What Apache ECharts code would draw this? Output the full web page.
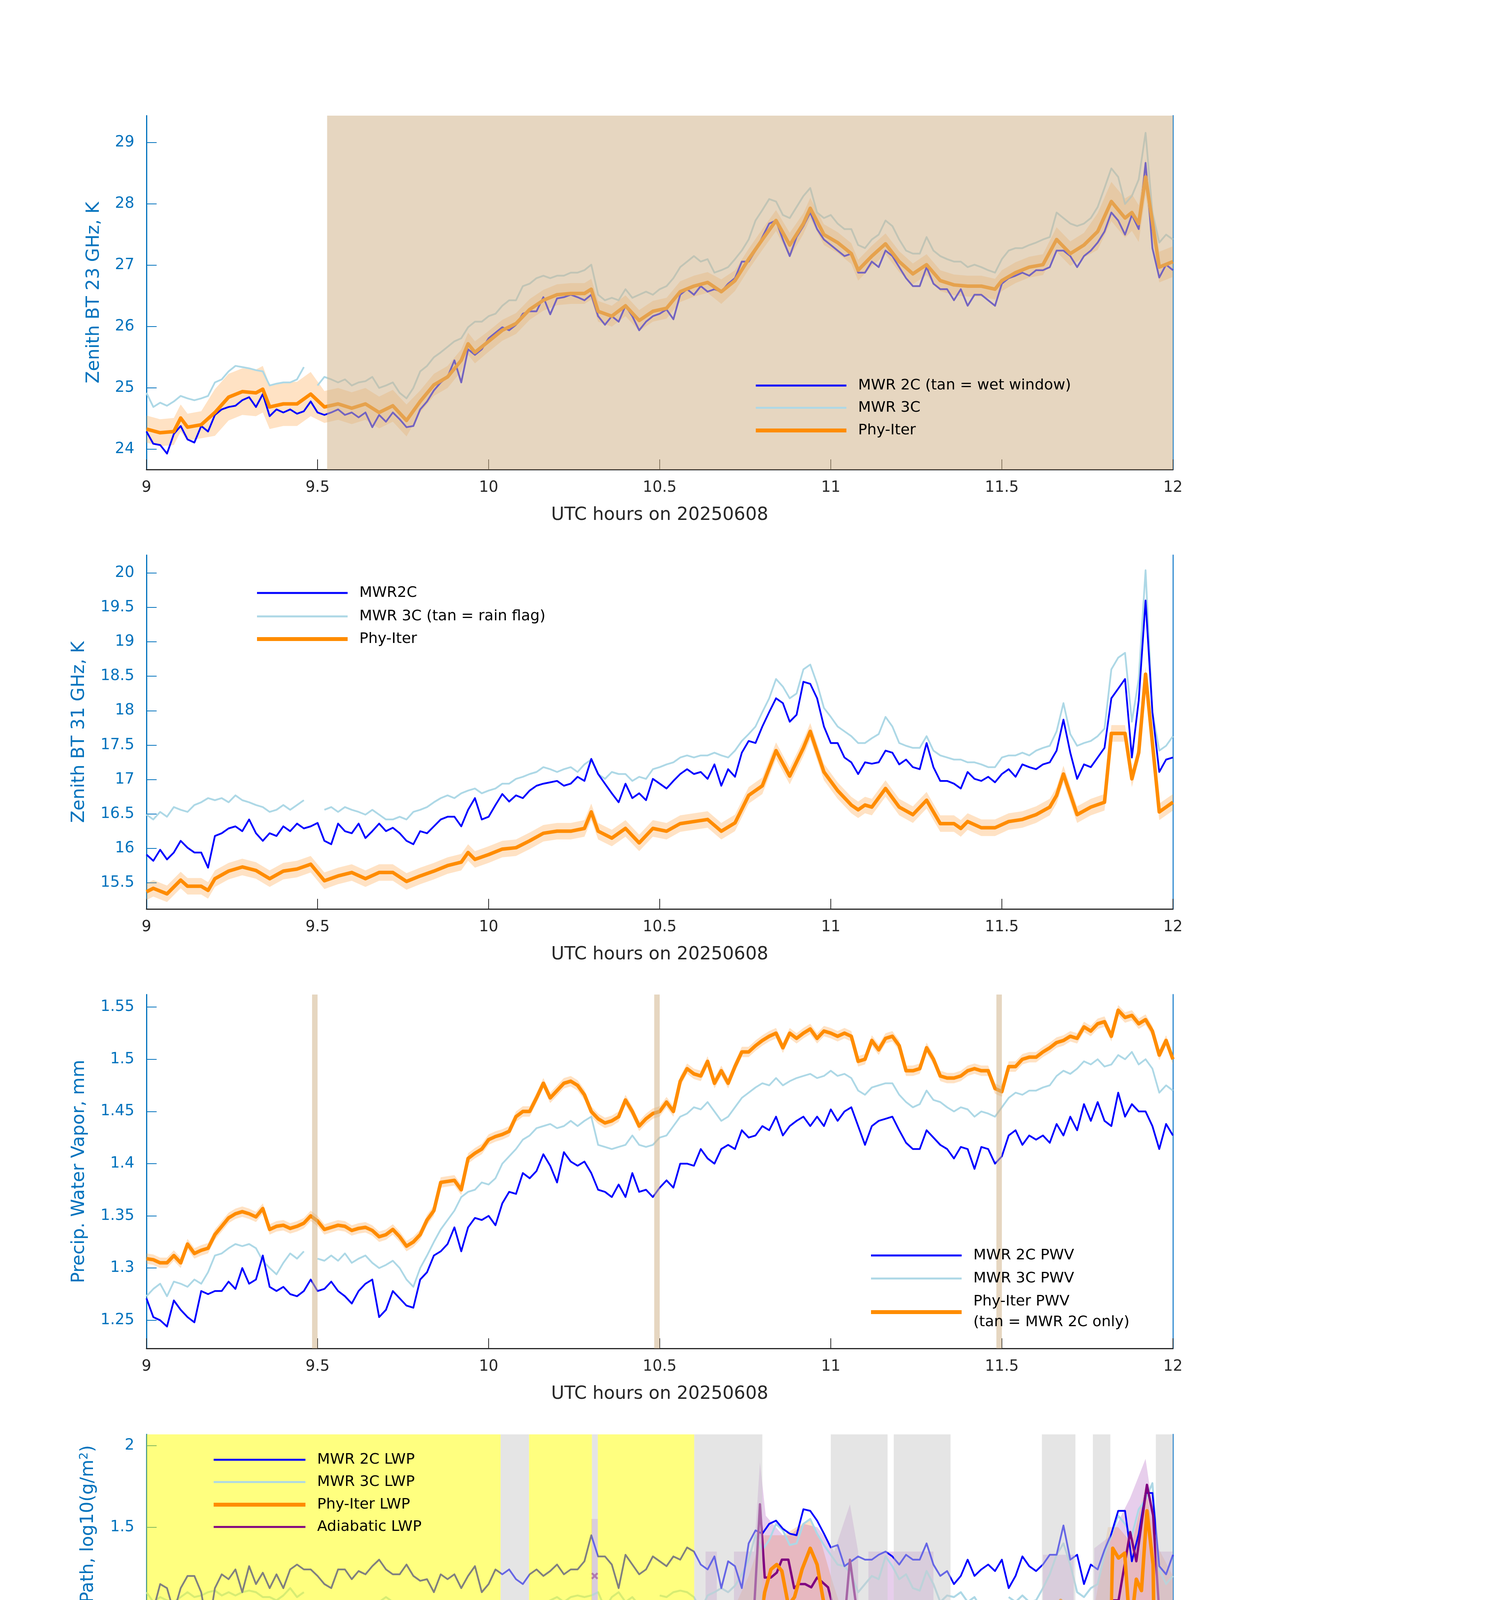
<!DOCTYPE html>
<html><head><meta charset="utf-8">
<script src="https://cdn.jsdelivr.net/npm/echarts@6/dist/echarts.min.js"></script>
<style>html,body{margin:0;padding:0;background:#fff}#c{width:3825px;height:6000px}</style>
</head><body><div id="c"></div>
<script>
// ---------------- DATA ----------------
// MWR sample grid: 9.00 .. 12.00 h every 0.02 h (151 samples)
const T = []; for (let i = 0; i <= 150; i++) T.push(+(9 + i * 0.02).toFixed(2));

// Panel 1: Zenith BT 23 GHz (K)
const p1_2c = [24.29,24.09,24.07,23.93,24.25,24.38,24.16,24.11,24.38,24.29,
24.56,24.65,24.69,24.71,24.80,24.85,24.69,24.90,24.54,24.65,
24.60,24.65,24.58,24.62,24.78,24.60,24.56,24.60,24.65,24.56,
24.60,24.52,24.60,24.36,24.56,24.45,24.60,24.49,24.36,24.38,
24.65,24.78,24.96,25.09,25.18,25.45,25.09,25.63,25.54,25.63,
25.81,25.90,25.99,25.94,26.03,26.21,26.25,26.25,26.48,26.20,
26.46,26.48,26.52,26.48,26.43,26.52,26.17,26.03,26.17,26.08,
26.34,26.17,25.94,26.08,26.17,26.21,26.28,26.12,26.52,26.61,
26.52,26.66,26.57,26.61,26.57,26.70,26.79,27.06,27.06,27.24,
27.46,27.68,27.73,27.42,27.15,27.46,27.64,27.86,27.59,27.42,
27.33,27.24,27.15,27.19,26.88,26.88,27.06,26.97,27.24,27.15,
26.97,26.79,26.66,26.66,26.97,26.70,26.61,26.61,26.43,26.61,
26.34,26.52,26.52,26.43,26.34,26.70,26.79,26.83,26.88,26.83,
26.92,26.92,26.97,27.24,27.24,27.15,26.97,27.15,27.24,27.37,
27.55,27.86,27.73,27.50,27.82,27.59,28.67,27.28,26.80,27.01,
26.92];
const p1_3c = [24.92,24.69,24.76,24.71,24.78,24.87,24.83,24.80,24.83,24.87,
25.09,25.14,25.27,25.36,25.34,25.32,25.29,25.27,25.04,25.07,
25.09,25.09,25.14,25.34,null,25.04,25.18,25.14,25.09,25.14,
25.04,25.09,25.11,25.18,25.00,25.04,25.09,24.92,24.83,25.00,
25.27,25.36,25.50,25.58,25.67,25.76,25.81,25.99,26.08,26.08,
26.17,26.21,26.34,26.43,26.43,26.66,26.70,26.79,26.83,26.79,
26.83,26.83,26.88,26.88,26.92,27.01,26.52,26.43,26.47,26.43,
26.61,26.47,26.52,26.57,26.52,26.61,26.66,26.79,26.97,27.06,
27.15,27.06,27.10,26.88,26.92,26.97,27.10,27.24,27.42,27.73,
27.90,28.08,28.04,27.82,27.77,27.95,28.13,28.26,27.86,27.77,
27.82,27.68,27.59,27.59,27.33,27.28,27.42,27.50,27.73,27.64,
27.42,27.24,27.19,27.19,27.46,27.24,27.15,27.10,27.06,27.06,
26.97,27.01,26.97,26.92,26.88,27.10,27.24,27.28,27.28,27.33,
27.37,27.42,27.46,27.86,27.77,27.68,27.64,27.68,27.77,27.95,
28.26,28.58,28.44,28.00,28.13,28.40,29.16,27.86,27.37,27.50,
27.42];
const p1_phyT = [9.00,9.04,9.08,9.10,9.12,9.16,9.20,9.24,9.28,9.32,9.34,9.36,9.40,9.44,9.48,9.52,9.56,9.60,9.64,9.68,
9.72,9.76,9.80,9.84,9.88,9.92,9.94,9.96,10.00,10.04,10.08,10.12,10.16,10.20,10.24,10.28,10.30,10.32,10.36,10.40,
10.44,10.48,10.52,10.56,10.60,10.64,10.68,10.72,10.76,10.80,10.84,10.88,10.92,10.94,10.98,11.02,11.06,11.08,11.12,11.16,
11.20,11.24,11.28,11.32,11.36,11.40,11.44,11.48,11.50,11.54,11.58,11.62,11.66,11.70,11.74,11.78,11.82,11.86,11.88,11.90,
11.92,11.96,12.00];
const p1_phy = [24.33,24.27,24.29,24.51,24.36,24.40,24.60,24.85,24.94,24.92,24.98,24.69,24.74,24.74,24.90,24.69,24.74,24.67,24.74,24.60,
24.71,24.47,24.78,25.05,25.18,25.45,25.72,25.58,25.76,25.94,26.05,26.28,26.43,26.52,26.54,26.54,26.61,26.25,26.17,26.34,
26.10,26.25,26.30,26.57,26.66,26.72,26.57,26.75,27.10,27.42,27.73,27.33,27.68,27.93,27.50,27.37,27.19,26.92,27.15,27.35,
27.06,26.86,27.01,26.75,26.68,26.66,26.66,26.61,26.75,26.88,26.97,27.01,27.42,27.19,27.33,27.55,28.04,27.77,27.86,27.68,
28.44,26.97,27.06];
const p1_phyU = [0.22,0.22,0.22,0.22,0.22,0.22,0.38,0.38,0.38,0.38,0.38,0.36,0.36,0.36,0.36,0.26,0.26,0.26,0.26,0.26,
0.26,0.26,0.18,0.18,0.18,0.18,0.18,0.18,0.17,0.17,0.17,0.17,0.17,0.17,0.17,0.17,0.17,0.17,0.17,0.17,
0.17,0.17,0.17,0.17,0.17,0.17,0.20,0.17,0.17,0.17,0.17,0.20,0.17,0.17,0.17,0.17,0.17,0.17,0.17,0.17,
0.17,0.17,0.17,0.17,0.17,0.17,0.17,0.17,0.17,0.17,0.17,0.17,0.20,0.20,0.20,0.30,0.32,0.32,0.30,0.30,
0.30,0.25,0.25];

// Panel 2: Zenith BT 31 GHz (K)
const p2_2c = [15.91,15.82,15.98,15.84,15.94,16.11,16.01,15.94,15.94,15.72,
16.18,16.22,16.29,16.32,16.25,16.42,16.22,16.11,16.22,16.18,
16.32,16.25,16.36,16.29,16.32,16.37,16.11,16.06,16.36,16.25,
16.22,16.36,16.15,16.25,16.36,16.25,16.30,16.22,16.11,16.06,
16.25,16.22,16.32,16.42,16.46,16.46,16.32,16.56,16.73,16.42,
16.46,16.63,16.79,16.68,16.77,16.73,16.84,16.91,16.94,16.96,
16.98,16.91,16.94,17.04,16.98,17.30,17.08,16.94,16.80,16.67,
16.94,16.73,16.80,16.70,17.01,16.94,16.87,16.98,17.08,17.15,
17.08,17.11,17.01,17.22,16.91,17.15,17.04,17.39,17.56,17.53,
17.77,17.98,18.18,18.11,17.84,17.94,18.42,18.39,18.18,17.77,
17.53,17.53,17.32,17.25,17.08,17.25,17.23,17.25,17.42,17.39,
17.22,17.29,17.18,17.15,17.53,17.18,16.98,16.98,16.94,16.87,
17.11,17.01,16.98,17.04,16.96,17.08,17.15,17.04,17.22,17.18,
17.15,17.22,17.25,17.42,17.87,17.39,17.01,17.22,17.18,17.32,
17.46,18.18,18.32,18.46,17.32,18.15,19.60,17.98,17.11,17.29,
17.32];
const p2_3c = [16.49,16.42,16.53,16.46,16.60,16.56,16.53,16.63,16.67,16.73,
16.70,16.73,16.67,16.77,16.70,16.67,16.63,16.60,16.53,16.56,
16.63,16.56,16.63,16.70,null,null,16.56,16.60,16.53,16.60,
16.56,16.53,16.49,16.56,16.49,16.42,16.42,16.46,16.42,16.53,
16.56,16.60,16.67,16.73,16.77,16.73,16.80,16.84,16.87,16.80,
16.84,16.87,16.94,16.94,17.01,17.04,17.08,17.11,17.18,17.15,
17.11,17.15,17.18,17.11,17.22,17.29,17.08,17.01,17.11,17.08,
17.08,16.98,17.04,17.01,17.15,17.18,17.22,17.25,17.32,17.35,
17.32,17.35,17.35,17.39,17.35,17.32,17.42,17.56,17.66,17.77,
17.98,18.18,18.46,18.35,18.18,18.25,18.60,18.67,18.39,18.04,
17.91,17.77,17.70,17.63,17.53,17.53,17.60,17.66,17.91,17.77,
17.53,17.49,17.46,17.46,17.63,17.42,17.35,17.32,17.29,17.29,
17.25,17.25,17.22,17.18,17.18,17.32,17.35,17.35,17.39,17.35,
17.42,17.46,17.49,17.70,18.11,17.66,17.49,17.53,17.56,17.63,
17.74,18.60,18.77,18.84,17.84,18.46,20.04,17.98,17.42,17.49,
17.63];
const p2_phyT = [9.00,9.02,9.06,9.10,9.12,9.16,9.18,9.20,9.24,9.28,9.32,9.36,9.40,9.44,9.48,9.52,9.56,9.60,9.64,9.68,
9.72,9.76,9.80,9.84,9.88,9.92,9.94,9.96,10.00,10.04,10.08,10.12,10.16,10.20,10.24,10.28,10.30,10.32,10.36,10.40,
10.44,10.48,10.52,10.56,10.60,10.64,10.68,10.72,10.76,10.80,10.84,10.88,10.92,10.94,10.98,11.02,11.06,11.08,11.10,11.12,
11.16,11.20,11.24,11.28,11.32,11.36,11.38,11.40,11.44,11.48,11.52,11.56,11.60,11.64,11.66,11.68,11.72,11.76,11.80,11.82,
11.86,11.88,11.90,11.92,11.96,11.98,12.00];
const p2_phy = [15.37,15.42,15.34,15.54,15.45,15.45,15.39,15.56,15.67,15.73,15.68,15.56,15.67,15.70,15.77,15.53,15.60,15.65,15.56,15.65,
15.65,15.52,15.60,15.67,15.75,15.80,15.94,15.84,15.91,15.99,16.01,16.11,16.22,16.25,16.25,16.29,16.53,16.25,16.15,16.29,
16.08,16.29,16.25,16.36,16.39,16.42,16.25,16.37,16.77,16.91,17.42,17.05,17.46,17.70,17.11,16.84,16.63,16.56,16.63,16.60,
16.87,16.60,16.49,16.70,16.36,16.36,16.29,16.39,16.30,16.30,16.39,16.42,16.49,16.60,16.77,17.08,16.49,16.60,16.67,17.67,
17.67,17.01,17.39,18.53,16.53,16.60,16.67];
const p2_phyU = 0.12;

// Panel 3: precipitable water vapour (mm)
const p3_2c = [1.271,1.253,1.250,1.244,1.269,1.260,1.253,1.248,1.278,1.275,
1.278,1.278,1.287,1.280,1.300,1.285,1.289,1.312,1.282,1.278,
1.282,1.275,1.273,1.278,1.289,1.278,1.280,1.287,1.278,1.273,
1.266,1.278,1.285,1.289,1.253,1.260,1.278,1.271,1.264,1.262,
1.289,1.296,1.312,1.316,1.323,1.339,1.316,1.339,1.348,1.346,
1.350,1.341,1.362,1.373,1.371,1.391,1.386,1.393,1.409,1.398,
1.382,1.411,1.402,1.398,1.402,1.391,1.375,1.373,1.368,1.380,
1.368,1.391,1.373,1.375,1.368,1.377,1.384,1.377,1.400,1.400,
1.398,1.414,1.405,1.400,1.414,1.418,1.414,1.432,1.425,1.427,
1.436,1.432,1.445,1.427,1.436,1.441,1.445,1.436,1.445,1.436,
1.452,1.441,1.450,1.454,1.436,1.418,1.436,1.441,1.443,1.445,
1.432,1.420,1.414,1.414,1.432,1.425,1.418,1.414,1.405,1.416,
1.414,1.395,1.416,1.414,1.400,1.407,1.427,1.432,1.418,1.427,
1.423,1.427,1.420,1.438,1.427,1.445,1.432,1.457,1.441,1.459,
1.441,1.436,1.468,1.445,1.457,1.450,1.450,1.436,1.414,1.438,
1.427];
const p3_3c = [1.273,1.280,1.285,1.273,1.287,1.285,1.282,1.289,1.285,1.296,
1.312,1.314,1.319,1.323,1.321,1.323,1.319,1.307,1.300,1.294,
1.305,1.314,1.309,1.316,null,1.309,1.307,1.312,1.307,1.314,
1.305,1.309,1.312,1.305,1.300,1.303,1.307,1.300,1.289,1.282,
1.300,1.312,1.325,1.337,1.346,1.355,1.368,1.373,1.375,1.382,
1.380,1.386,1.400,1.407,1.414,1.423,1.427,1.434,1.436,1.438,
1.434,1.436,1.441,1.436,1.441,1.445,1.418,1.416,1.414,1.416,
1.418,1.427,1.418,1.416,1.418,1.425,1.427,1.436,1.445,1.448,
1.454,1.452,1.459,1.450,1.441,1.445,1.454,1.463,1.468,1.473,
1.477,1.475,1.482,1.475,1.479,1.482,1.484,1.486,1.482,1.484,
1.489,1.484,1.486,1.482,1.470,1.466,1.473,1.475,1.477,1.477,
1.466,1.459,1.454,1.457,1.470,1.461,1.459,1.454,1.450,1.454,
1.452,1.445,1.450,1.448,1.445,1.454,1.463,1.468,1.466,1.470,
1.470,1.473,1.475,1.484,1.489,1.486,1.491,1.498,1.495,1.500,
1.493,1.495,1.504,1.500,1.507,1.495,1.500,1.491,1.468,1.475,
1.470];
const p3_phy = [1.309,1.308,1.305,1.305,1.312,1.305,1.323,1.314,1.317,1.319,
1.332,1.340,1.348,1.352,1.354,1.352,1.349,1.357,1.337,1.340,
1.341,1.338,1.340,1.343,1.350,1.345,1.337,1.339,1.341,1.340,
1.336,1.338,1.339,1.336,1.330,1.332,1.337,1.330,1.321,1.325,
1.332,1.346,1.355,1.382,1.383,1.384,1.375,1.405,1.410,1.414,
1.423,1.426,1.428,1.431,1.445,1.450,1.450,1.463,1.477,1.463,
1.470,1.477,1.479,1.475,1.466,1.450,1.443,1.439,1.441,1.445,
1.461,1.450,1.436,1.443,1.448,1.450,1.459,1.450,1.479,1.491,
1.486,1.484,1.498,1.477,1.489,1.477,1.493,1.507,1.507,1.513,
1.518,1.522,1.525,1.511,1.525,1.520,1.525,1.529,1.520,1.527,
1.525,1.522,1.525,1.522,1.498,1.500,1.518,1.509,1.520,1.522,
1.513,1.489,1.489,1.491,1.511,1.500,1.484,1.482,1.482,1.484,
1.489,1.491,1.489,1.489,1.472,1.469,1.493,1.493,1.500,1.502,
1.502,1.507,1.511,1.516,1.518,1.522,1.520,1.531,1.527,1.534,
1.536,1.522,1.547,1.540,1.542,1.534,1.538,1.527,1.504,1.518,
1.500];
const p3_phyU = 0.005;

// Panel 4: log10 LWP
const p4_2c = [1.007,0.99,1.15,1.125,0.98,1.125,1.20,1.20,1.10,0.86,
1.125,1.21,1.18,1.24,1.10,1.26,1.15,1.22,1.125,1.21,
1.125,1.24,1.27,1.24,1.24,1.20,1.15,1.125,1.24,1.24,
1.18,1.23,1.21,1.26,1.30,1.24,1.21,1.21,1.27,1.20,
1.17,1.18,1.10,1.21,1.18,1.21,1.125,1.20,1.26,1.10,
1.15,1.24,1.21,1.24,1.18,1.15,1.21,1.24,1.20,1.23,
1.27,1.21,1.24,1.24,1.29,1.45,1.32,1.32,1.27,1.125,
1.33,1.27,1.21,1.24,1.32,1.29,1.26,1.32,1.30,1.375,
1.35,1.27,1.24,1.32,1.125,1.29,1.26,1.125,1.40,1.48,
1.46,1.52,1.54,1.49,1.46,1.45,1.61,1.60,1.54,1.46,
1.375,1.39,1.26,1.29,1.32,1.30,1.30,1.33,1.35,1.32,
1.27,1.33,1.30,1.30,1.40,1.27,1.20,1.23,1.15,1.20,
1.30,1.20,1.24,1.27,1.23,1.30,1.125,1.20,1.32,1.26,
1.23,1.27,1.33,1.33,1.51,1.30,1.33,1.15,1.27,1.24,
1.36,1.46,1.60,1.60,1.29,1.46,1.71,1.71,1.26,1.21,
1.33];
const p4_3c = [1.10,1.04,1.07,1.05,1.04,1.07,1.10,1.07,1.08,1.10,
1.11,1.08,1.10,1.08,1.10,1.11,1.10,1.07,1.07,1.05,
1.08,1.125,1.07,1.10,null,1.00,0.99,1.02,1.04,1.00,
0.99,1.02,0.99,1.04,1.04,1.07,1.04,0.99,0.98,0.99,
0.99,0.98,1.02,1.00,0.99,1.00,0.98,0.96,0.98,0.93,
0.98,1.00,1.02,0.98,0.96,0.99,1.00,1.04,1.02,1.05,
1.07,1.04,1.07,1.08,1.07,1.08,1.10,1.00,1.07,1.10,
1.04,1.07,1.02,1.04,null,1.08,1.07,1.10,1.11,1.10,
1.07,0.99,1.08,1.10,1.125,1.10,1.14,1.21,1.30,1.45,
1.36,1.42,1.52,1.48,1.39,1.40,1.52,1.55,1.46,1.39,
1.33,1.27,1.26,1.21,1.10,1.15,1.20,1.18,1.32,1.26,
1.18,1.21,1.125,1.11,1.23,1.15,1.04,1.08,1.07,1.10,
1.04,1.07,1.00,0.99,null,null,1.07,1.04,1.08,1.04,
1.05,1.125,1.21,1.33,1.40,1.27,1.10,1.07,1.125,1.15,
1.33,1.45,1.57,1.52,1.45,1.61,1.67,1.77,1.24,1.15,
1.20];
// Phy-Iter LWP [hour, log10 LWP] (null = break; values below the axis run off the bottom)
const p4_phy = [[10.655,0.44],[10.66,-1],null,
[10.727,0.02],[10.743,0.0],[10.758,0.68],[10.773,0.79],[10.798,0.98],[10.807,1.10],[10.825,1.24],[10.842,1.27],[10.857,1.23],
[10.876,1.02],[10.894,1.07],[10.916,1.24],[10.94,1.37],[10.96,1.27],[10.979,1.04],[10.994,0.89],[11.009,0.80],[11.024,0.57],
[11.043,0.24],[11.058,-1],null,
[11.107,0.78],[11.125,-1],[11.141,-1],[11.159,0.68],[11.173,0.82],[11.208,-1],[11.223,0.79],[11.245,0.68],[11.25,-1],
[11.274,0.64],[11.294,0.52],[11.298,-1],null,
[11.642,-1],[11.672,1.05],[11.687,0.99],[11.709,0.125],null,
[11.775,0.015],[11.78,-1],[11.795,-1],[11.824,1.37],[11.841,1.31],[11.859,1.34],[11.875,0.85],[11.893,1.18],[11.908,1.11],
[11.924,1.60],[11.942,1.27],[11.957,-1],[11.985,-1],[12.0,0.60]];
const p4_adi = [[10.634,1.0],[10.667,1.0],null,
[10.717,1.0],[10.776,1.0],[10.793,1.64],[10.807,1.19],[10.825,1.19],[10.842,1.22],[10.857,1.30],[10.876,1.30],[10.893,1.125],
[10.906,1.15],[10.925,1.15],[10.943,1.13],[10.96,1.19],[10.992,1.13],[11.009,0.99],[11.043,0.99],[11.056,1.30],[11.076,0.99],null,
[11.11,0.99],[11.159,0.99],[11.174,1.04],[11.19,0.99],[11.22,0.98],[11.294,0.98],[11.305,0.99],null,
[11.626,0.98],[11.709,0.98],null,
[11.775,0.98],[11.807,0.98],[11.824,1.05],[11.841,1.05],[11.875,1.47],[11.893,1.29],[11.924,1.76],[11.942,1.57],[11.959,1.01],[12.0,1.02]];
const p4_markAdi = [[10.31,1.2]];
const p4_markPhy = [[10.31,0.77]];
// uncertainty bands: segments of [hour, low, high]
const p4_adiBand = [
 [[10.300,0.60,1.55],[10.319,0.60,1.55]],
 [[10.634,0.40,1.35],[10.667,0.40,1.35]],
 [[10.717,0.40,1.35],[10.776,0.40,1.35],[10.793,0.60,1.90],[10.81,0.74,1.57],[10.86,0.74,1.45],[10.88,0.62,1.45],[10.92,0.68,1.52],
  [10.96,0.76,1.50],[10.99,0.55,1.42],[11.01,0.40,1.35],[11.056,0.40,1.64],[11.08,0.40,1.35]],
 [[11.11,0.38,1.35],[11.30,0.38,1.35]],
 [[11.62,0.37,1.33],[11.71,0.37,1.33]],
 [[11.77,0.39,1.37],[11.82,0.45,1.45],[11.875,0.54,1.68],[11.92,0.90,1.92],[11.96,0.55,1.35],[12.0,0.55,1.35]]];
const p4_phyBand = [
 [[10.300,-1,1.0],[10.319,-1,1.0]],
 [[10.63,-1,0.9],[10.667,-1,0.9]],
 [[10.717,-1,1.0],[10.76,-1,1.2],[10.80,0.55,1.45],[10.86,0.6,1.45],[10.9,0.72,1.5],[10.94,0.8,1.55],[10.97,0.45,1.42],[11.0,-1,1.2],[11.06,-1,0.8]],
 [[11.10,-1,0.95],[11.30,-1,0.95]],
 [[11.64,-1,1.0],[11.71,-1,1.0]],
 [[11.77,-1,1.0],[11.81,-0.1,1.5],[11.84,0.5,1.5],[11.88,0.2,1.4],[11.92,0.8,1.75],[11.95,-1,1.4],[12.0,-1,1.2]]];

// Shaded time spans [start, end] in hours
const p1_tan = [[9.528, 12.0]];
const p3_tan = [[9.484, 9.500], [10.484, 10.500], [11.484, 11.500]];
const p4_yellow = [[9.0, 10.035], [10.118, 10.302], [10.319, 10.601]];
const p4_grey = [[10.035, 10.118], [10.302, 10.319], [10.601, 10.80], [11.0, 11.166], [11.184, 11.35], [11.617, 11.715], [11.766, 11.817], [11.95, 12.0]];

// Panel 5: DQ flag runs [flag, count] on a 0.0132 h cadence starting 9.004 h (null = no value)
const flagRuns = [[5,78],[3,5],[null,2],[5,14],[4,1],[5,21],[3,2],[null,1],[4,2],[null,1],[3,3],[4,5],[null,2],[0,14],[null,1],
[4,5],[null,1],[3,1],[4,4],[null,1],[0,1],[null,1],[4,9],[null,1],[3,2],[0,20],[null,1],[4,6],[null,1],[0,3],[null,1],[4,3],[null,1],
[0,9],[null,1],[4,4]];
const flagT0 = 9.004, flagDt = 0.0132;

// Tick labels
const xTicks = [9, 9.5, 10, 10.5, 11, 11.5, 12];
const y1Ticks = [24, 25, 26, 27, 28, 29];
const y2Ticks = [15.5, 16, 16.5, 17, 17.5, 18, 18.5, 19, 19.5, 20];
const y3Ticks = [1.25, 1.3, 1.35, 1.4, 1.45, 1.5, 1.55];
const y4Ticks = [0, 0.5, 1, 1.5, 2];
const y5Ticks = [0, 2, 4, 6, 8, 10];

// ---------------- STYLE / LAYOUT ----------------
const FF = 'DejaVu Sans';
const AXB = '#0072BD', DK = '#262626';
const C2 = '#0000ff', C3 = '#add8e6', CO = '#ff8c00', CP = '#800080';
const TAN = 'rgba(210,180,140,0.55)', YEL = 'rgba(255,255,0,0.5)', GRY = 'rgba(204,204,204,0.5)';
const BAND = 'rgba(255,160,60,0.3)', PBAND = 'rgba(160,60,180,0.25)';
const TOPS = [296, 1421, 2546, 3672, 4797], GH = 906, GL = 375, GW = 2628;
const YCFG = [
 {min: 23.67, max: 29.44, ticks: y1Ticks, name: 'Zenith BT 23 GHz, K', gap: 111},
 {min: 15.12, max: 20.26, ticks: y2Ticks, name: 'Zenith BT 31 GHz, K', gap: 149},
 {min: 1.223, max: 1.562, ticks: y3Ticks, name: 'Precip. Water Vapor, mm', gap: 149},
 {min: -0.105, max: 2.07, ticks: y4Ticks, name: 'log10 Liquid Water Path, log10(g/m{sup|2})', gap: 124},
 {min: -0.5, max: 11.5, ticks: y5Ticks, name: 'MWR Phy Iter DQ Flag', gap: 111}];
const fmt = v => String(Math.round(v * 1000) / 1000);

const grids = TOPS.map(t => ({left: GL, top: t, width: GW, height: GH, containLabel: false, outerBoundsMode: 'none'}));
const xAxes = TOPS.map((t, i) => ({type: 'value', gridIndex: i, min: 9, max: 12,
  name: 'UTC hours on 20250608', nameLocation: 'middle', nameGap: 94,
  nameTextStyle: {fontSize: 46, color: DK, fontFamily: FF},
  axisLine: {show: true, onZero: false, lineStyle: {color: DK, width: 3}},
  axisTick: {show: true, inside: true, length: 26, customValues: xTicks, lineStyle: {color: DK, width: 2}},
  axisLabel: {customValues: xTicks, formatter: fmt, fontSize: 39, color: DK, margin: 27, fontFamily: FF},
  splitLine: {show: false}}));
const yAxes = YCFG.map((c, i) => ({type: 'value', gridIndex: i, position: 'left', min: c.min, max: c.max,
  name: c.name, nameLocation: 'middle', nameGap: c.gap,
  nameTextStyle: {fontSize: 46, color: AXB, fontFamily: FF,
    rich: {sup: {fontSize: 30, color: AXB, fontFamily: FF, verticalAlign: 'bottom', padding: [0, 0, 20, 0]}}},
  axisLine: {show: true, onZero: false, lineStyle: {color: AXB, width: 3}},
  axisTick: {show: true, inside: true, length: 26, customValues: c.ticks, lineStyle: {color: AXB, width: 2}},
  axisLabel: {customValues: c.ticks, formatter: fmt, fontSize: 39, color: AXB, margin: 31, fontFamily: FF},
  splitLine: {show: false}})).concat(YCFG.map((c, i) => ({type: 'value', gridIndex: i, position: 'right', min: c.min, max: c.max,
  axisLine: {show: true, onZero: false, lineStyle: {color: '#2f8ad0', width: 3}},
  axisTick: {show: false}, axisLabel: {show: false}, splitLine: {show: false}})));

// ---------------- SERIES HELPERS ----------------
function lineS(ax, name, data, color, width, z) {
  const s = {type: 'line', xAxisIndex: ax, yAxisIndex: ax, data: data, showSymbol: false, symbol: 'none',
    lineStyle: {color: color, width: width, join: 'round'}, itemStyle: {color: color}, z: z,
    connectNulls: false, clip: true, silent: true, animation: false, emphasis: {disabled: true}};
  if (name) s.name = name;
  return s;
}
const onGrid = arr => T.map((t, i) => [t, arr[i]]);
const pairsOf = (ts, vs) => ts.map((t, i) => [t, vs[i]]);
function spanSeries(ax, spans, color, z) {
  const c = YCFG[ax];
  return {type: 'custom', xAxisIndex: ax, yAxisIndex: ax, z: z, silent: true, animation: false, clip: true,
    data: spans.map(s => [s[0], c.min, s[1]]),
    renderItem: function (params, api) {
      const s = spans[params.dataIndex];
      const a = api.coord([s[0], c.max]), b = api.coord([s[1], c.min]);
      return {type: 'rect', shape: {x: a[0], y: a[1], width: b[0] - a[0], height: b[1] - a[1]}, style: {fill: color}};
    }};
}
function bandSeries(ax, segs, color, z) {
  const c = YCFG[ax];
  return {type: 'custom', xAxisIndex: ax, yAxisIndex: ax, z: z, silent: true, animation: false, clip: true,
    data: segs.map(s => [s[0][0], Math.max(s[0][1], c.min)]),
    renderItem: function (params, api) {
      const seg = segs[params.dataIndex];
      const top = seg.map(p => api.coord([p[0], Math.min(p[2], c.max)]));
      const bot = seg.slice().reverse().map(p => api.coord([p[0], Math.max(p[1], c.min)]));
      return {type: 'polygon', shape: {points: top.concat(bot)}, style: {fill: color}};
    }};
}
const bandFrom = (ts, vs, u) => [ts.map((t, i) => [t, vs[i] - (Array.isArray(u) ? u[i] : u), vs[i] + (Array.isArray(u) ? u[i] : u)])];
const CROSS = 'path://M2,0L5,3L8,0L10,2L7,5L10,8L8,10L5,7L2,10L0,8L3,5L0,2Z';

const flagData = [];
(function () { let k = 0; flagRuns.forEach(r => { for (let j = 0; j < r[1]; j++, k++) { if (r[0] !== null) flagData.push([+(flagT0 + k * flagDt).toFixed(4), r[0]]); } }); })();

const series = [
  // Panel 1
  bandSeries(0, bandFrom(p1_phyT, p1_phy, p1_phyU), BAND, 2),
  lineS(0, 'MWR 3C', onGrid(p1_3c), C3, 4.5, 3),
  lineS(0, 'MWR 2C (tan = wet window)', onGrid(p1_2c), C2, 4.5, 4),
  lineS(0, 'Phy-Iter', pairsOf(p1_phyT, p1_phy), CO, 9, 5),
  spanSeries(0, p1_tan, TAN, 10),
  // Panel 2
  bandSeries(1, bandFrom(p2_phyT, p2_phy, p2_phyU), BAND, 2),
  lineS(1, 'MWR 3C (tan = rain flag)', onGrid(p2_3c), C3, 4.5, 3),
  lineS(1, 'MWR2C', onGrid(p2_2c), C2, 4.5, 4),
  lineS(1, 'Phy-Iter ', pairsOf(p2_phyT, p2_phy), CO, 9, 5),
  // Panel 3
  bandSeries(2, bandFrom(T, p3_phy, p3_phyU), BAND, 2),
  lineS(2, 'MWR 3C PWV', onGrid(p3_3c), C3, 4.5, 3),
  lineS(2, 'MWR 2C PWV', onGrid(p3_2c), C2, 4.5, 4),
  lineS(2, 'Phy-Iter PWV\n(tan = MWR 2C only)', onGrid(p3_phy), CO, 9, 5),
  spanSeries(2, p3_tan, TAN, 10),
  // Panel 4
  bandSeries(3, p4_phyBand, BAND, 2),
  bandSeries(3, p4_adiBand, PBAND, 2),
  lineS(3, 'MWR 3C LWP', onGrid(p4_3c), C3, 5, 3),
  lineS(3, 'MWR 2C LWP', onGrid(p4_2c), C2, 4.5, 4),
  lineS(3, 'Adiabatic LWP', p4_adi, CP, 6, 5),
  lineS(3, 'Phy-Iter LWP', p4_phy, CO, 9, 6),
  {type: 'scatter', xAxisIndex: 3, yAxisIndex: 3, data: p4_markAdi, symbol: CROSS, symbolSize: 18, itemStyle: {color: CP}, z: 7, silent: true, animation: false},
  {type: 'scatter', xAxisIndex: 3, yAxisIndex: 3, data: p4_markPhy, symbol: CROSS, symbolSize: 18, itemStyle: {color: CO}, z: 7, silent: true, animation: false},
  spanSeries(3, p4_yellow, YEL, 10),
  spanSeries(3, p4_grey, GRY, 10),
  // Panel 5
  {type: 'scatter', xAxisIndex: 4, yAxisIndex: 4, data: flagData, symbol: 'circle', symbolSize: 8, itemStyle: {color: CO}, z: 5, silent: true, animation: false}
];

function leg(left, top, names, w, h, gap, lh) {
  return {orient: 'vertical', left: left, top: top, data: names, itemWidth: w, itemHeight: h, itemGap: gap, z: 20,
    icon: 'rect', selectedMode: false, padding: 0,
    textStyle: {fontSize: 38, color: '#000', fontFamily: FF, lineHeight: lh || 52, padding: [0, 0, 0, 25]}};
}
const legends = [
  leg(1935, 961, ['MWR 2C (tan = wet window)', 'MWR 3C'], 232, 5, 5),
  leg(1935, 1076, ['Phy-Iter'], 232, 10, 5),
  leg(658, 1492, ['MWR2C', 'MWR 3C (tan = rain flag)'], 232, 5, 8),
  leg(658, 1610, ['Phy-Iter '], 232, 10, 8),
  leg(2230, 3188, ['MWR 2C PWV', 'MWR 3C PWV'], 232, 5, 7),
  leg(2230, 3306, ['Phy-Iter PWV\n(tan = MWR 2C only)'], 232, 10, 7, 53),
  leg(547, 3711, ['MWR 2C LWP', 'MWR 3C LWP'], 235, 5, 5),
  leg(547, 3826, ['Phy-Iter LWP'], 235, 10, 5),
  leg(547, 3883, ['Adiabatic LWP'], 235, 5, 5)
];

const chart = echarts.init(document.getElementById('c'), null, {renderer: 'canvas', width: 3825, height: 6000});
chart.setOption({
  animation: false, backgroundColor: '#fff',
  textStyle: {fontFamily: FF},
  grid: grids, xAxis: xAxes, yAxis: yAxes, legend: legends, series: series, tooltip: {show: false}
});
</script></body></html>
